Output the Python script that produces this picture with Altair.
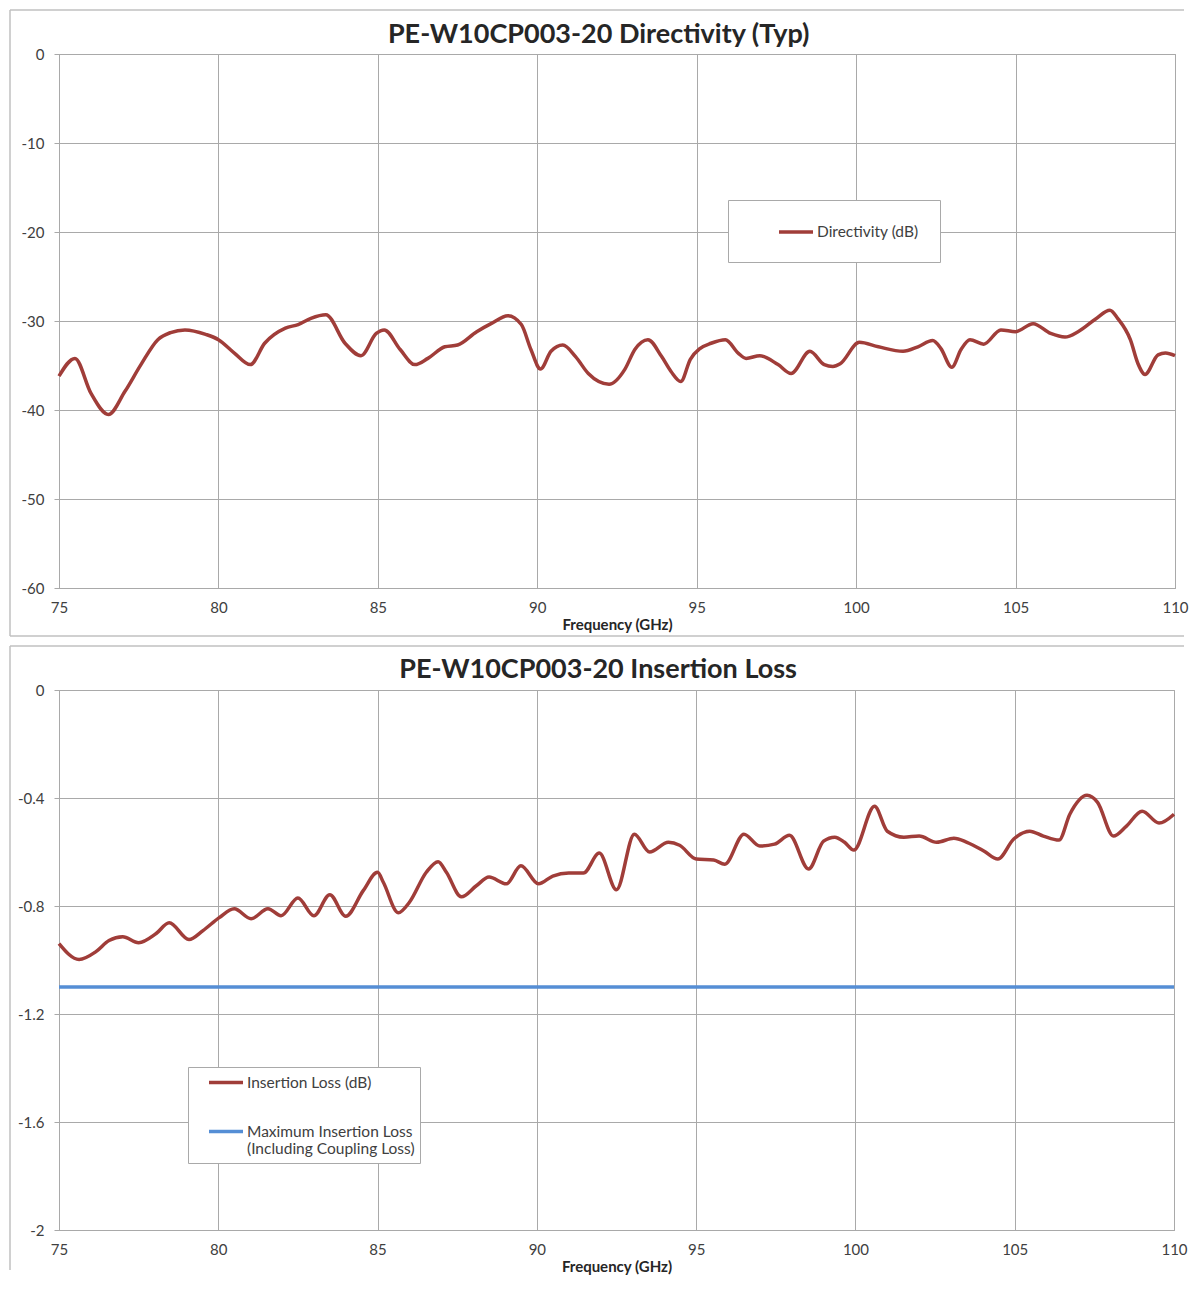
import altair as alt
import pandas as pd

# ---- data ----
dir_freq = [75.0, 75.5, 76.0, 76.55, 77.07, 77.57, 78.1, 78.5, 78.95, 79.6, 80.0, 80.5, 81.0, 81.45,
            82.1, 82.5, 82.9, 83.37, 83.97, 84.47, 84.95, 85.2, 85.7, 86.16, 86.57, 87.1, 87.5, 88.1,
            88.55, 89.08, 89.5, 89.8, 90.1, 90.43, 90.8, 91.2, 91.6, 92.25, 92.75, 93.06, 93.47, 93.9,
            94.2, 94.5, 94.8, 95.1, 95.45, 95.9, 96.3, 96.55, 96.98, 97.55, 97.96, 98.55, 99.0, 99.27,
            99.5, 100.1, 100.7, 101.47, 101.94, 102.4, 102.66, 103.0, 103.29, 103.57, 104.0, 104.54,
            105.0, 105.55, 106.1, 106.55, 106.96, 107.5, 107.96, 108.2, 108.6, 108.84, 109.06, 109.47,
            109.7, 110.0]
dir_db = [-36.2, -34.2, -38.1, -40.5, -37.9, -34.9, -32.1, -31.3, -31.0, -31.5, -32.1, -33.6, -34.9, -32.5,
          -30.8, -30.4, -29.7, -29.3, -32.5, -33.9, -31.4, -31.0, -33.2, -34.9, -34.2, -32.9, -32.7, -31.2,
          -30.3, -29.4, -30.4, -33.2, -35.4, -33.4, -32.7, -34.0, -35.9, -37.1, -35.4, -33.2, -32.1, -34.0,
          -35.7, -36.8, -34.3, -33.1, -32.5, -32.1, -33.6, -34.2, -33.9, -34.9, -35.9, -33.4, -34.9, -35.1,
          -34.8, -32.4, -32.9, -33.4, -32.9, -32.2, -33.1, -35.2, -33.2, -32.1, -32.6, -31.0,
          -31.2, -30.3, -31.4, -31.8, -31.2, -29.8, -28.8, -29.7, -32.1, -34.8, -36.0, -33.8,
          -33.6, -33.9]

il_freq = [75.0, 75.63, 76.16, 76.57, 77.0, 77.5, 78.05, 78.46, 79.08, 79.52, 80.03, 80.5, 81.03, 81.56,
           81.97, 82.5, 83.0, 83.5, 84.0, 84.55, 85.0, 85.18, 85.65, 86.0, 86.53, 86.9, 87.16, 87.63,
           88.1, 88.5, 89.04, 89.5, 90.05, 90.5, 91.0, 91.46, 91.96, 92.5, 93.06, 93.54, 94.13, 94.48,
           95.0, 95.55, 95.9, 96.5, 97.0, 97.46, 97.93, 98.53, 99.0, 99.35, 99.66, 99.95, 100.6, 101.0,
           101.52, 102.0, 102.55, 103.09, 103.5, 104.03, 104.47, 104.97, 105.47, 105.9, 106.39, 106.73,
           107.27, 107.6, 108.1, 108.5, 109.0, 109.53, 110.0]
il_db = [-0.939, -0.998, -0.969, -0.928, -0.914, -0.936, -0.902, -0.862, -0.924, -0.891, -0.843, -0.810,
         -0.847, -0.810, -0.836, -0.770, -0.836, -0.758, -0.838, -0.743, -0.675, -0.712, -0.825, -0.786,
         -0.675, -0.636, -0.675, -0.766, -0.725, -0.693, -0.718, -0.651, -0.718, -0.689, -0.678, -0.678,
         -0.604, -0.740, -0.534, -0.600, -0.564, -0.575, -0.626, -0.630, -0.645, -0.534, -0.578, -0.571,
         -0.538, -0.663, -0.560, -0.545, -0.564, -0.593, -0.431, -0.523, -0.545, -0.541, -0.564, -0.549,
         -0.564, -0.596, -0.626, -0.552, -0.523, -0.541, -0.556, -0.460, -0.390, -0.416, -0.541, -0.505,
         -0.449, -0.493, -0.460]

max_freq = [75.0, 110.0]
max_db = [-1.1, -1.1]

x_ticks = [75, 80, 85, 90, 95, 100, 105, 110]
dir_ticks = [0, -10, -20, -30, -40, -50, -60]
il_ticks = [0, -0.4, -0.8, -1.2, -1.6, -2]

dir_name = "Directivity (dB)"
il_name = "Insertion Loss (dB)"
max_name = "Maximum Insertion Loss (Including Coupling Loss)"

RED = "#A03D39"
BLUE = "#558ED5"
GRID = "#a9a9a9"
FRAME = "#c0c0c0"
TXT = "#404040"
DARK = "#262626"
FONT = "Lato"
LINE_SYMBOL = "M-2,0H2"

df_dir = pd.DataFrame({"freq": dir_freq, "val": dir_db, "series": dir_name})
df_il = pd.concat([
    pd.DataFrame({"freq": il_freq, "val": il_db, "series": il_name}),
    pd.DataFrame({"freq": max_freq, "val": max_db, "series": max_name}),
])
one = pd.DataFrame({"k": [0]})


def x_enc():
    return alt.X("freq:Q",
                 scale=alt.Scale(domain=[75, 110], nice=False, zero=False),
                 axis=alt.Axis(values=x_ticks, title="Frequency (GHz)", ticks=False, tickSize=0,
                               labelPadding=12, titlePadding=2, labelFlush=False))


def frame(left, top, bottom, with_bottom):
    parts = [
        alt.Chart(one).mark_rule(color=FRAME, strokeWidth=1.5).encode(
            x=alt.value(left), y=alt.value(top), y2=alt.value(bottom)),
        alt.Chart(one).mark_rule(color=FRAME, strokeWidth=1.5).encode(
            x=alt.value(left), x2=alt.value(1125), y=alt.value(top)),
    ]
    if with_bottom:
        parts.append(alt.Chart(one).mark_rule(color=FRAME, strokeWidth=1.5).encode(
            x=alt.value(left), x2=alt.value(1125), y=alt.value(bottom)))
    return parts


legend_common = dict(title=None, orient="none", strokeColor=GRID, fillColor="white",
                     symbolType=LINE_SYMBOL, symbolSize=289, symbolStrokeWidth=3.5,
                     labelOffset=10.5, labelFontSize=15.5, labelFont=FONT, labelColor=TXT,
                     labelLimit=400)

top_line = alt.Chart(df_dir).mark_line(interpolate="monotone", strokeWidth=3.5).encode(
    x=x_enc(),
    y=alt.Y("val:Q", scale=alt.Scale(domain=[-60, 0], nice=False),
            axis=alt.Axis(values=dir_ticks, title=None, labelExpr="'' + datum.value",
                          tickSize=5, labelPadding=10)),
    color=alt.Color("series:N", scale=alt.Scale(domain=[dir_name], range=[RED]),
                    legend=alt.Legend(legendX=669, legendY=146, padding=21.5, symbolOffset=36,
                                      labelExpr="datum.label + '\u2002\u2002\u2002\u2002'",
                                      **legend_common)),
)

top = alt.layer(*frame(-49, -44, 582, True), top_line).properties(
    width=1116, height=534,
    title=alt.TitleParams("PE-W10CP003-20 Directivity (Typ)", fontSize=27, font=FONT,
                          fontWeight="bold", color=DARK, anchor="middle", frame="bounds",
                          baseline="alphabetic", offset=-61),
)

bot_line = alt.Chart(df_il).mark_line(interpolate="monotone", strokeWidth=3.5).encode(
    x=x_enc(),
    y=alt.Y("val:Q", scale=alt.Scale(domain=[-2, 0], nice=False),
            axis=alt.Axis(values=il_ticks, title=None, labelExpr="'' + datum.value",
                          tickSize=5, labelPadding=10)),
    color=alt.Color("series:N", scale=alt.Scale(domain=[il_name, max_name], range=[RED, BLUE]),
                    legend=alt.Legend(legendX=129, legendY=377, padding=5, symbolOffset=22.5,
                                      rowPadding=30,
                                      labelExpr="datum.label == '" + max_name + "' ? ['Maximum Insertion Loss', '(Including Coupling Loss)\u2002\u2002'] : datum.label",
                                      **legend_common)),
)

bot = alt.layer(*frame(-49, -44, 580, False), bot_line).properties(
    width=1115, height=540,
    title=alt.TitleParams("PE-W10CP003-20 Insertion Loss", fontSize=27, font=FONT,
                          fontWeight="bold", color=DARK, anchor="middle", frame="bounds",
                          baseline="alphabetic", offset=-60),
)

chart = alt.vconcat(top, bot, spacing=6).resolve_scale(color="independent").resolve_legend(
    color="independent"
).configure(
    padding=0,
    font=FONT,
).configure_view(
    stroke=GRID, strokeWidth=1
).configure_axis(
    gridColor=GRID, gridWidth=1, gridOpacity=1, domainColor=GRID, tickColor=GRID,
    labelFont=FONT, labelFontSize=15, labelColor=TXT,
    titleFont=FONT, titleFontSize=15, titleFontWeight="bold", titleColor=DARK,
)

chart.save("out.html", embed_options={"renderer": "svg", "actions": False})
